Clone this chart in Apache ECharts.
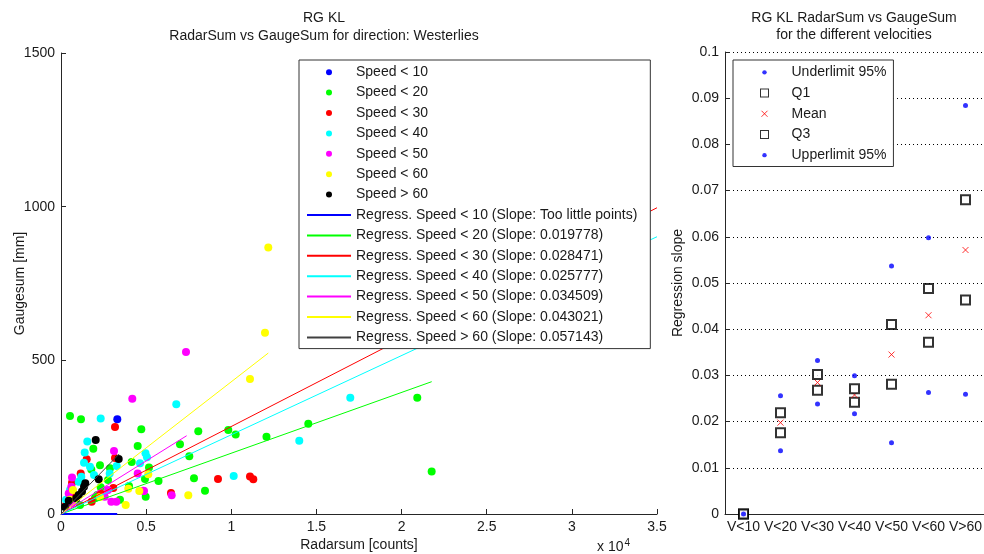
<!DOCTYPE html>
<html>
<head>
<meta charset="utf-8">
<script src="https://cdn.jsdelivr.net/npm/echarts@6/dist/echarts.min.js"></script>
<style>
  html, body { margin: 0; padding: 0; background: #fff; }
  #chart { width: 984px; height: 554px; }
</style>
</head>
<body>
<div id="chart"></div>
<script>
// ---- data: radar sum [counts] vs gauge sum [mm], grouped by wind speed ----
const speedNames = ['Speed < 10', 'Speed < 20', 'Speed < 30', 'Speed < 40', 'Speed < 50', 'Speed < 60', 'Speed > 60'];
const speedColors = ['#0000ff', '#00ff00', '#ff0000', '#00ffff', '#ff00ff', '#ffff00', '#000000'];

const ptsSpeed10 = [[3306, 308]];
const ptsSpeed20 = [[528, 319], [1174, 308], [4715, 276], [8062, 269], [9824, 273], [10258, 259], [12067, 251],
  [6988, 227], [4504, 221], [7534, 188], [1897, 212], [4151, 169], [5167, 151], [2877, 149], [1779, 145],
  [4932, 114], [5725, 107], [7810, 116], [3993, 91], [2331, 87], [4974, 56], [8456, 76], [14522, 294],
  [20922, 378], [21767, 138], [2290, 159], [1116, 29], [1996, 52], [3464, 46], [2760, 111], [2131, 62]];
const ptsSpeed30 = [[3171, 283], [1509, 178], [3171, 182], [1157, 132], [646, 102], [863, 56], [2331, 67],
  [9219, 114], [11098, 122], [11292, 113], [6459, 68], [3071, 85], [294, 29], [1800, 40]];
const ptsSpeed40 = [[2331, 311], [6770, 357], [1544, 236], [1392, 200], [4962, 198], [5050, 185], [1351, 167],
  [1703, 154], [4639, 165], [3271, 156], [2860, 132], [1938, 127], [1192, 121], [1039, 105], [10141, 124],
  [16988, 378], [13993, 238], [528, 78], [294, 46]];
const ptsSpeed50 = [[4187, 375], [7340, 527], [3112, 205], [4504, 132], [4874, 75], [646, 119], [605, 89],
  [452, 67], [646, 35], [2760, 78], [2566, 56], [2954, 40], [3247, 40], [6500, 61], [4833, 76]];
const ptsSpeed60 = [[12173, 867], [11979, 590], [11098, 439], [5126, 129], [3952, 82], [4598, 75], [7475, 61],
  [3799, 29], [705, 78], [528, 46], [2290, 55]];
const ptsSpeedOver60 = [[2038, 241], [3388, 179], [2214, 113], [1427, 100], [1351, 89], [1233, 73], [1039, 62],
  [898, 51], [452, 43], [235, 23]];

// regression fit per speed class: slope and the radar sum where the fitted line ends
const regSlopes = [0, 0.019778, 0.028471, 0.025777, 0.034509, 0.043021, 0.057143];
const regSlopeText = ['Too little points', '0.019778', '0.028471', '0.025777', '0.034509', '0.043021', '0.057143'];
const regEnds = [3300, 21770, 35000, 35000, 7380, 12173, 3420];

// ---- data: regression slope statistics per velocity class ----
const velocityClasses = ['V<10', 'V<20', 'V<30', 'V<40', 'V<50', 'V<60', 'V>60'];
const underLimit95 = [0, 0.0137, 0.0238, 0.0217, 0.0154, 0.0263, 0.0259];
const quartile1 = [0, 0.0176, 0.0268, 0.0242, 0.0281, 0.0372, 0.0463];
const slopeMean = [0, 0.019778, 0.028471, 0.025777, 0.034509, 0.043021, 0.057143];
const quartile3 = [0, 0.0219, 0.0302, 0.0271, 0.0410, 0.0488, 0.0680];
const upperLimit95 = [0, 0.0256, 0.0332, 0.0299, 0.0537, 0.0598, 0.0884];

const FONT = '"Liberation Sans", Arial, Helvetica, sans-serif';
const TXT = '#1a1a1a';
const AX = '#262626';

const pointGroups = [ptsSpeed10, ptsSpeed20, ptsSpeed30, ptsSpeed40, ptsSpeed50, ptsSpeed60, ptsSpeedOver60];
const regNames = speedNames.map((n, i) => 'Regress. ' + n + ' (Slope: ' + regSlopeText[i] + ')');
const regColors = ['#0000ff', '#00ff00', '#ff0000', '#00ffff', '#ff00ff', '#ffff00', '#404040'];

const series = [];
pointGroups.forEach((pts, i) => {
  series.push({
    name: speedNames[i], type: 'scatter', xAxisIndex: 0, yAxisIndex: 0,
    data: pts, symbol: 'circle', symbolSize: 8,
    itemStyle: { color: speedColors[i], opacity: 1 }, silent: true, z: 2
  });
});
regSlopes.forEach((s, i) => {
  series.push({
    name: regNames[i], type: 'line', xAxisIndex: 0, yAxisIndex: 0,
    data: [[0, 0], [regEnds[i], s * regEnds[i]]],
    symbol: 'none', lineStyle: { color: regColors[i], width: i === 0 ? 2 : 1 },
    itemStyle: { color: regColors[i] }, silent: true, z: 3
  });
});

const bluePt = { symbol: 'circle', symbolSize: 5, itemStyle: { color: '#0000ff' } };
series.push(
  Object.assign({ name: 'Underlimit 95%', type: 'scatter', xAxisIndex: 1, yAxisIndex: 1, data: underLimit95, silent: true }, bluePt),
  { name: 'Q1', type: 'scatter', xAxisIndex: 1, yAxisIndex: 1, data: quartile1, symbol: 'emptyRect', symbolSize: 9,
    itemStyle: { color: '#000', borderWidth: 1 }, silent: true },
  { name: 'Mean', type: 'scatter', xAxisIndex: 1, yAxisIndex: 1, data: slopeMean,
    symbol: 'path://M0,0L10,10M10,0L0,10', symbolSize: 6,
    itemStyle: { color: '#ff0000', borderColor: '#ff0000', borderWidth: 1 }, silent: true },
  { name: 'Q3', type: 'scatter', xAxisIndex: 1, yAxisIndex: 1, data: quartile3, symbol: 'emptyRect', symbolSize: 9,
    itemStyle: { color: '#000', borderWidth: 1 }, silent: true },
  Object.assign({ name: 'Upperlimit 95%', type: 'scatter', xAxisIndex: 1, yAxisIndex: 1, data: upperLimit95, silent: true }, bluePt)
);

const tickFont = { fontFamily: FONT, fontSize: 14, color: TXT };
// legend icons laid out in a 44 x 9 box so that the marker sits centred over its slot
const hollowSquare = 'path://M0,0M44,9M17.5,0H26.5V9H17.5Z M18.5,1V8H25.5V1Z';
const smallDot = 'path://M0,0M44,9M19.8,4.5a2.2,2.2 0 1 0 4.4,0a2.2,2.2 0 1 0 -4.4,0Z';
const crossMark = 'path://M0,0M44,9M19,1.5L25,7.5M25,1.5L19,7.5';

const chart = echarts.init(document.getElementById('chart'), null, { renderer: 'canvas' });
chart.setOption({
  animation: false,
  backgroundColor: '#fff',
  grid: [
    { left: 61, top: 53, width: 596, height: 461, containLabel: false, outerBoundsMode: 'none' },
    { left: 725, top: 52, width: 259, height: 462, containLabel: false, outerBoundsMode: 'none' }
  ],
  xAxis: [
    {
      gridIndex: 0, type: 'value', min: 0, max: 35000, interval: 5000,
      name: 'Radarsum [counts]', nameLocation: 'middle', nameGap: 24, nameMoveOverlap: false,
      nameTextStyle: { fontFamily: FONT, fontSize: 14, color: TXT },
      axisLine: { show: true, onZero: false, lineStyle: { color: AX, width: 1 } },
      axisTick: { show: true, inside: true, length: 5, lineStyle: { color: AX } },
      axisLabel: Object.assign({ margin: 6, formatter: v => String(v / 10000) }, tickFont),
      splitLine: { show: false }
    },
    {
      gridIndex: 1, type: 'category', data: velocityClasses, boundaryGap: true,
      axisLine: { show: true, lineStyle: { color: AX, width: 1 } },
      axisTick: { show: false },
      axisLabel: Object.assign({ margin: 6, interval: 0 }, tickFont),
      splitLine: { show: false }
    }
  ],
  yAxis: [
    {
      gridIndex: 0, type: 'value', min: 0, max: 1500, interval: 500,
      name: 'Gaugesum [mm]', nameLocation: 'middle', nameGap: 34, nameMoveOverlap: false,
      nameTextStyle: { fontFamily: FONT, fontSize: 14, color: TXT },
      axisLine: { show: true, onZero: false, lineStyle: { color: AX, width: 1 } },
      axisTick: { show: true, inside: true, length: 5, lineStyle: { color: AX } },
      axisLabel: Object.assign({ margin: 6, formatter: v => String(v) }, tickFont),
      splitLine: { show: false }
    },
    {
      gridIndex: 1, type: 'value', min: 0, max: 0.1, interval: 0.01,
      name: 'Regression slope', nameLocation: 'middle', nameGap: 40, nameMoveOverlap: false,
      nameTextStyle: { fontFamily: FONT, fontSize: 14, color: TXT },
      axisLine: { show: true, onZero: false, lineStyle: { color: AX, width: 1 } },
      axisTick: { show: true, inside: true, length: 5, lineStyle: { color: AX } },
      axisLabel: Object.assign({ margin: 6, formatter: v => String(+v.toFixed(2)) }, tickFont),
      splitLine: { show: true, lineStyle: { color: '#000', width: 1, type: [1, 3] } }
    }
  ],
  legend: [
    {
      orient: 'vertical', left: 299, top: 60, itemWidth: 44, itemHeight: 6, itemGap: 0,
      padding: [2, 13, 1, 7], borderColor: '#333', borderWidth: 1, backgroundColor: '#fff',
      textStyle: { fontFamily: FONT, fontSize: 14, color: TXT, lineHeight: 20.4 },
      selectedMode: false,
      data: speedNames.map(n => ({ name: n }))
        .concat(regNames.map(n => ({ name: n, itemStyle: { opacity: 0 } })))
    },
    {
      orient: 'vertical', left: 733, top: 60, itemWidth: 44, itemHeight: 9, itemGap: 0,
      padding: [2, 7, 1, 7], borderColor: '#333', borderWidth: 1, backgroundColor: '#fff',
      textStyle: { fontFamily: FONT, fontSize: 14, color: TXT, lineHeight: 20.7 },
      selectedMode: false,
      data: [
        { name: 'Underlimit 95%', icon: smallDot, itemStyle: { color: '#0000ff', borderWidth: 0 } },
        { name: 'Q1', icon: hollowSquare, itemStyle: { color: '#000', borderWidth: 0 } },
        { name: 'Mean', icon: crossMark, itemStyle: { color: 'none', borderColor: '#ff0000', borderWidth: 1 } },
        { name: 'Q3', icon: hollowSquare, itemStyle: { color: '#000', borderWidth: 0 } },
        { name: 'Upperlimit 95%', icon: smallDot, itemStyle: { color: '#0000ff', borderWidth: 0 } }
      ]
    }
  ],
  graphic: [
    { type: 'text', x: 324, y: 18, silent: true,
      style: { text: 'RG KL', align: 'center', verticalAlign: 'middle', font: '14px ' + FONT, fill: TXT } },
    { type: 'text', x: 324, y: 36, silent: true,
      style: { text: 'RadarSum vs GaugeSum for direction: Westerlies', align: 'center', verticalAlign: 'middle', font: '14px ' + FONT, fill: TXT } },
    { type: 'text', x: 854, y: 18, silent: true,
      style: { text: 'RG KL RadarSum vs GaugeSum', align: 'center', verticalAlign: 'middle', font: '14px ' + FONT, fill: TXT } },
    { type: 'text', x: 854, y: 35, silent: true,
      style: { text: 'for the different velocities', align: 'center', verticalAlign: 'middle', font: '14px ' + FONT, fill: TXT } },
    { type: 'text', x: 597, y: 538, silent: true,
      style: {
        text: '{a|x 10}{b|4}',
        rich: {
          a: { fontFamily: FONT, fontSize: 14, fill: TXT, color: TXT },
          b: { fontFamily: FONT, fontSize: 10, fill: TXT, color: TXT, verticalAlign: 'top', padding: [0, 0, 8, 1] }
        }
      } }
  ],
  series: series
});
</script>
</body>
</html>
